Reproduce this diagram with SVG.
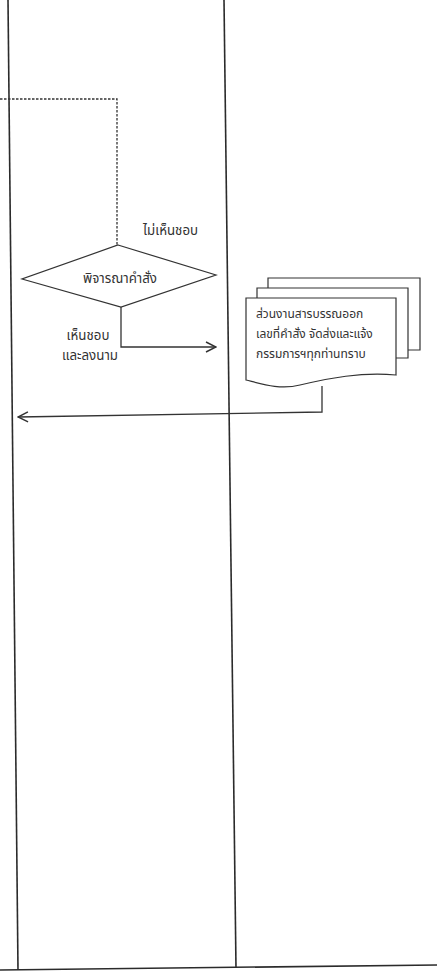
<svg xmlns="http://www.w3.org/2000/svg" width="437" height="973" viewBox="0 0 437 973">
<style>
  .lane{stroke:#2b2b2b;stroke-width:1.6;fill:none}
  .shape{stroke:#333;stroke-width:1.2;fill:#fff}
  .conn{stroke:#333;stroke-width:1.3;fill:none}
  .dash{stroke:#333;stroke-width:1.3;fill:none;stroke-dasharray:2.5 1.5}
  .t{font-family:"Noto Sans Thai","Tahoma","Noto Sans","DejaVu Sans",sans-serif;font-size:12px;fill:#333}
  .l{font-size:13.3px}
</style>
<defs>
  <marker id="open" viewBox="0 0 12 12" refX="11" refY="6" markerWidth="12" markerHeight="12" markerUnits="userSpaceOnUse" orient="auto">
    <path d="M1,1 L11,6 L1,11" fill="none" stroke="#333" stroke-width="1.5"/>
  </marker>
</defs>
<rect width="437" height="973" fill="#fff"/>
<g id="lanes">
  <line class="lane" x1="8" y1="0" x2="18" y2="970"/>
  <line class="lane" x1="224" y1="0" x2="236" y2="968"/>
  <line class="lane" x1="0" y1="970" x2="437" y2="965"/>
</g>
<g id="connectors">
  <path class="dash" d="M0,99 H117 V245"/>
  <path class="conn" d="M121,307 V347 H216" marker-end="url(#open)"/>
  <path class="conn" d="M322,386 V412 L18,417" marker-end="url(#open)"/>
</g>
<g id="decision">
  <polygon class="shape" points="118,245 216,275 121,307 22,279"/>
  <text class="t l" x="120" y="283" text-anchor="middle">พิจารณาคำสั่ง</text>
</g>
<g id="label-no">
  <text class="t l" x="143" y="235">ไม่เห็นชอบ</text>
</g>
<g id="label-yes">
  <text class="t l" x="88" y="340" text-anchor="middle">เห็นชอบ</text>
  <text class="t l" x="90" y="360" text-anchor="middle">และลงนาม</text>
</g>
<g id="documents">
  <path class="shape" d="M268,278 H420 V350 H268 Z"/>
  <path class="shape" d="M257,288 H408 V358 H257 Z"/>
  <path class="shape" d="M246,298 H396 V375 C360,372 330,378 300,385 C280,390 262,384 246,380 Z"/>
  <text class="t" x="256" y="318">ส่วนงานสารบรรณออก</text>
  <text class="t" x="256" y="338">เลขที่คำสั่ง จัดส่งและแจ้ง</text>
  <text class="t" x="256" y="358">กรรมการฯทุกท่านทราบ</text>
</g>
</svg>
